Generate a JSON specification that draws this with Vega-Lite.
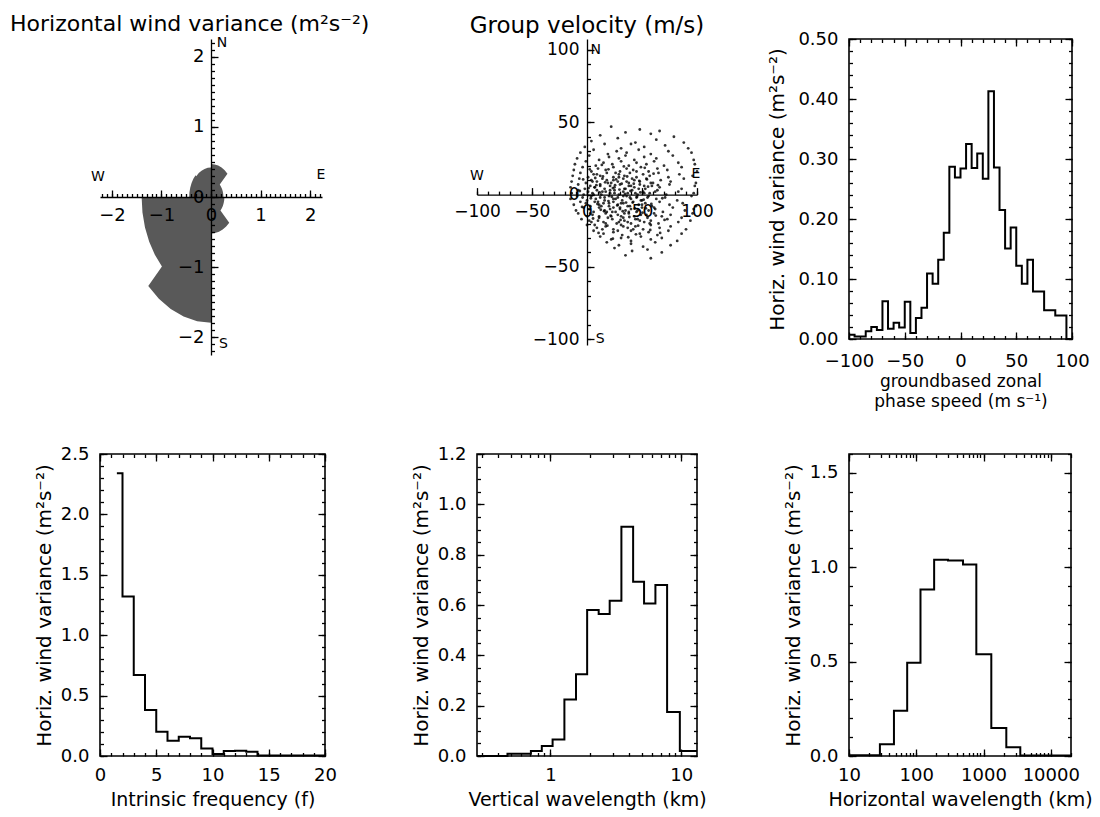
{
"$schema":"https://vega.github.io/schema/vega-lite/v6.json",
"padding":{"left":10,"top":12,"right":0,"bottom":0},
"bounds":"flush",
"columns":3,
"spacing":{"row":99,"column":152},
"config":{
 "font":"DejaVu Sans",
 "background":"white",
 "view":{"stroke":"black","strokeWidth":1.6},
 "axis":{"labelFont":"DejaVu Sans","labelFontSize":18,"labelColor":"black","titleFont":"DejaVu Sans","titleFontSize":19,"titleFontWeight":"normal","titleColor":"black","tickColor":"black","tickWidth":1.3,"domainColor":"black","domainWidth":1.3,"grid":false,"labelFlush":false,"labelOverlap":false,"domain":false,"tickSize":-7,"labelPadding":14,"titlePadding":6},
 "axisX":{"labelPadding":17},
 "axisY":{"labelPadding":18,"titleFontSize":20},
 "title":{"font":"DejaVu Sans","fontSize":22,"fontWeight":"normal","color":"black"},
 "text":{"font":"DejaVu Sans","color":"black"}
},
"concat":[
 {"width":222,"height":316,"view":{"stroke":null},
  "title":{"text":"Horizontal wind variance (m²s⁻²)","anchor":"start","frame":"group","dx":-90,"offset":-17,"baseline":"alphabetic"},
  "layer":[
   {"data":{"values":[
    {"i":0,"x":0.25,"y":0},{"i":1,"x":0.247,"y":0.039},{"i":2,"x":0.238,"y":0.077},{"i":3,"x":0.223,"y":0.114},{"i":4,"x":0.202,"y":0.147},{"i":5,"x":0.177,"y":0.177},
    {"i":6,"x":0.332,"y":0.332},{"i":7,"x":0.276,"y":0.38},{"i":8,"x":0.213,"y":0.419},{"i":9,"x":0.145,"y":0.447},{"i":10,"x":0.074,"y":0.464},{"i":11,"x":0,"y":0.47},
    {"i":12,"x":0,"y":0.42},{"i":13,"x":-0.066,"y":0.415},{"i":14,"x":-0.13,"y":0.399},{"i":15,"x":-0.191,"y":0.374},{"i":16,"x":-0.247,"y":0.34},{"i":17,"x":-0.297,"y":0.297},
    {"i":18,"x":-0.311,"y":0.311},{"i":19,"x":-0.356,"y":0.259},{"i":20,"x":-0.392,"y":0.2},{"i":21,"x":-0.418,"y":0.136},{"i":22,"x":-0.435,"y":0.069},{"i":23,"x":-0.44,"y":0},
    {"i":24,"x":-1.4,"y":0},{"i":25,"x":-1.383,"y":-0.219},{"i":26,"x":-1.332,"y":-0.433},{"i":27,"x":-1.247,"y":-0.636},{"i":28,"x":-1.133,"y":-0.823},{"i":29,"x":-0.99,"y":-0.99},
    {"i":30,"x":-1.266,"y":-1.266},{"i":31,"x":-1.052,"y":-1.448},{"i":32,"x":-0.813,"y":-1.595},{"i":33,"x":-0.553,"y":-1.702},{"i":34,"x":-0.28,"y":-1.768},{"i":35,"x":0,"y":-1.79},
    {"i":36,"x":0,"y":-0.52},{"i":37,"x":0.081,"y":-0.514},{"i":38,"x":0.161,"y":-0.495},{"i":39,"x":0.236,"y":-0.463},{"i":40,"x":0.306,"y":-0.421},{"i":41,"x":0.368,"y":-0.368},
    {"i":42,"x":0.191,"y":-0.191},{"i":43,"x":0.218,"y":-0.159},{"i":44,"x":0.241,"y":-0.123},{"i":45,"x":0.257,"y":-0.083},{"i":46,"x":0.267,"y":-0.042},{"i":47,"x":0.27,"y":0}
   ]},
    "mark":{"type":"line","filled":true,"color":"#595959"},
    "encoding":{
     "order":{"field":"i","type":"quantitative"},
     "x":{"field":"x","type":"quantitative","scale":{"domain":[-2.24,2.24],"nice":false,"zero":false},"axis":{"orient":"bottom","offset":-158,"domain":true,"values":[-2,-1,0,1,2],"title":null,"zindex":1,"labelPadding":16}},
     "y":{"field":"y","type":"quantitative","scale":{"domain":[-2.25,2.25],"nice":false,"zero":false},"axis":{"orient":"left","offset":-111,"domain":true,"values":[-2,-1,0,1,2],"title":null,"zindex":1,"labelPadding":14}}}},
   {"data":{"values":[{"t":"N","x":0.22,"y":2.2},{"t":"S","x":0.25,"y":-2.09},{"t":"W","x":-2.28,"y":0.28},{"t":"E","x":2.22,"y":0.31}]},
    "mark":{"type":"text","fontSize":14},
    "encoding":{
     "text":{"field":"t"},
     "x":{"field":"x","type":"quantitative","axis":{"orient":"bottom","offset":-158,"tickCount":45,"labels":false,"title":null,"tickSize":-3.5,"zindex":1}},
     "y":{"field":"y","type":"quantitative","axis":{"orient":"left","offset":-111,"tickCount":45,"labels":false,"title":null,"tickSize":-3.5,"zindex":1}}}}
  ],
  "resolve":{"axis":{"x":"independent","y":"independent"}}
 },
 {"width":220,"height":306,"view":{"stroke":null},
  "title":{"text":"Group velocity (m/s)","frame":"group","offset":-17,"baseline":"alphabetic","fontSize":23},
  "layer":[
   {"data":{"values":[
    {"u":22,"v":47},{"u":48,"v":45},{"u":66,"v":44},
    {"u":12,"v":41},{"u":35,"v":43},{"u":58,"v":42},{"u":79,"v":40},
    {"u":4,"v":37},{"u":28,"v":39},{"u":44,"v":36},{"u":63,"v":38},{"u":88,"v":36},
    {"u":-2,"v":33},{"u":16,"v":35},{"u":31,"v":32},{"u":40,"v":35},{"u":52,"v":33},{"u":71,"v":34},{"u":92,"v":32},
    {"u":-6,"v":29},{"u":6,"v":31},{"u":19,"v":28},{"u":27,"v":30},{"u":36,"v":29},{"u":47,"v":31},{"u":58,"v":28},{"u":74,"v":30},{"u":95,"v":29},
    {"u":-9,"v":25},{"u":2,"v":27},{"u":11,"v":24},{"u":20,"v":26},{"u":29,"v":25},{"u":35,"v":27},{"u":43,"v":24},{"u":52,"v":26},{"u":63,"v":25},{"u":78,"v":27},{"u":97,"v":24},
    {"u":-11,"v":21},{"u":-1,"v":23},{"u":8,"v":20},{"u":15,"v":22},{"u":23,"v":21},{"u":31,"v":23},{"u":38,"v":20},{"u":45,"v":22},{"u":54,"v":21},{"u":61,"v":23},{"u":70,"v":20},{"u":83,"v":22},{"u":98,"v":21},
    {"u":-12,"v":17},{"u":-4,"v":19},{"u":4,"v":16},{"u":10,"v":18},{"u":17,"v":17},{"u":24,"v":19},{"u":30,"v":16},{"u":36,"v":18},{"u":42,"v":17},{"u":49,"v":19},{"u":56,"v":16},{"u":64,"v":18},{"u":73,"v":17},{"u":86,"v":19},{"u":100,"v":16},
    {"u":-13,"v":13},{"u":-6,"v":15},{"u":1,"v":12},{"u":6,"v":14},{"u":12,"v":13},{"u":18,"v":15},{"u":24,"v":12},{"u":29,"v":14},{"u":34,"v":13},{"u":39,"v":15},{"u":45,"v":12},{"u":51,"v":14},{"u":57,"v":13},{"u":65,"v":15},{"u":74,"v":12},{"u":84,"v":14},{"u":96,"v":13},
    {"u":-14,"v":9},{"u":-7,"v":11},{"u":-1,"v":8},{"u":4,"v":10},{"u":9,"v":9},{"u":14,"v":11},{"u":19,"v":8},{"u":24,"v":10},{"u":28,"v":9},{"u":33,"v":11},{"u":38,"v":8},{"u":43,"v":10},{"u":48,"v":9},{"u":54,"v":11},{"u":60,"v":8},{"u":67,"v":10},{"u":76,"v":9},{"u":88,"v":11},{"u":99,"v":8},
    {"u":-15,"v":5},{"u":-8,"v":7},{"u":-2,"v":4},{"u":3,"v":6},{"u":7,"v":5},{"u":12,"v":7},{"u":16,"v":4},{"u":21,"v":6},{"u":25,"v":5},{"u":30,"v":7},{"u":34,"v":4},{"u":38,"v":6},{"u":43,"v":5},{"u":48,"v":7},{"u":53,"v":4},{"u":59,"v":6},{"u":66,"v":5},{"u":75,"v":7},{"u":86,"v":4},{"u":98,"v":6},
    {"u":-14,"v":1},{"u":-8,"v":3},{"u":-3,"v":0},{"u":1,"v":2},{"u":5,"v":1},{"u":9,"v":3},{"u":13,"v":0},{"u":17,"v":2},{"u":21,"v":1},{"u":25,"v":3},{"u":29,"v":0},{"u":33,"v":2},{"u":37,"v":1},{"u":41,"v":3},{"u":46,"v":0},{"u":51,"v":2},{"u":57,"v":1},{"u":64,"v":3},{"u":72,"v":0},{"u":83,"v":2},{"u":97,"v":1},
    {"u":-15,"v":-3},{"u":-9,"v":-1},{"u":-4,"v":-2},{"u":0,"v":-4},{"u":4,"v":-1},{"u":8,"v":-3},{"u":12,"v":-2},{"u":16,"v":-4},{"u":20,"v":-1},{"u":24,"v":-3},{"u":28,"v":-2},{"u":32,"v":-4},{"u":36,"v":-1},{"u":40,"v":-3},{"u":45,"v":-2},{"u":50,"v":-4},{"u":56,"v":-1},{"u":63,"v":-3},{"u":71,"v":-2},{"u":82,"v":-4},{"u":95,"v":-1},
    {"u":-12,"v":-7},{"u":-6,"v":-5},{"u":-1,"v":-6},{"u":3,"v":-8},{"u":7,"v":-5},{"u":11,"v":-7},{"u":15,"v":-6},{"u":20,"v":-8},{"u":24,"v":-5},{"u":28,"v":-7},{"u":33,"v":-6},{"u":37,"v":-8},{"u":42,"v":-5},{"u":47,"v":-7},{"u":53,"v":-6},{"u":59,"v":-8},{"u":66,"v":-5},{"u":75,"v":-7},{"u":87,"v":-6},{"u":99,"v":-8},
    {"u":-10,"v":-11},{"u":-3,"v":-9},{"u":2,"v":-10},{"u":6,"v":-12},{"u":11,"v":-9},{"u":16,"v":-11},{"u":21,"v":-10},{"u":26,"v":-12},{"u":30,"v":-9},{"u":35,"v":-11},{"u":40,"v":-10},{"u":45,"v":-12},{"u":50,"v":-9},{"u":56,"v":-11},{"u":62,"v":-10},{"u":69,"v":-12},{"u":78,"v":-9},{"u":89,"v":-11},{"u":97,"v":-10},
    {"u":-8,"v":-13},{"u":0,"v":-15},{"u":5,"v":-14},{"u":11,"v":-16},{"u":17,"v":-13},{"u":22,"v":-15},{"u":28,"v":-14},{"u":33,"v":-16},{"u":38,"v":-13},{"u":43,"v":-15},{"u":49,"v":-14},{"u":55,"v":-16},{"u":61,"v":-13},{"u":68,"v":-15},{"u":76,"v":-14},{"u":86,"v":-16},{"u":96,"v":-13},
    {"u":-5,"v":-17},{"u":4,"v":-19},{"u":10,"v":-18},{"u":17,"v":-20},{"u":23,"v":-17},{"u":29,"v":-19},{"u":34,"v":-18},{"u":40,"v":-20},{"u":46,"v":-17},{"u":52,"v":-19},{"u":58,"v":-18},{"u":65,"v":-20},{"u":73,"v":-17},{"u":83,"v":-19},{"u":94,"v":-18},
    {"u":0,"v":-21},{"u":9,"v":-23},{"u":17,"v":-22},{"u":24,"v":-24},{"u":31,"v":-21},{"u":37,"v":-23},{"u":44,"v":-22},{"u":51,"v":-24},{"u":58,"v":-21},{"u":66,"v":-23},{"u":76,"v":-22},{"u":90,"v":-24},
    {"u":6,"v":-25},{"u":15,"v":-27},{"u":24,"v":-26},{"u":32,"v":-28},{"u":40,"v":-25},{"u":48,"v":-27},{"u":56,"v":-26},{"u":64,"v":-28},{"u":74,"v":-25},{"u":86,"v":-27},
    {"u":12,"v":-29},{"u":22,"v":-31},{"u":31,"v":-30},{"u":40,"v":-32},{"u":49,"v":-29},{"u":58,"v":-31},{"u":68,"v":-30},{"u":82,"v":-32},
    {"u":18,"v":-33},{"u":29,"v":-35},{"u":40,"v":-34},{"u":51,"v":-36},{"u":62,"v":-33},{"u":76,"v":-35},
    {"u":25,"v":-37},{"u":41,"v":-39},{"u":55,"v":-38},{"u":68,"v":-40},
    {"u":35,"v":-42},{"u":58,"v":-44},
    {"u":2,"v":-18},{"u":7,"v":5},{"u":10,"v":-5},{"u":14,"v":2},{"u":18,"v":-12},{"u":22,"v":8},{"u":26,"v":-3},{"u":31,"v":-15},{"u":35,"v":4},{"u":39,"v":-8},
    {"u":44,"v":1},{"u":48,"v":-18},{"u":52,"v":6},{"u":27,"v":-20},{"u":13,"v":-8},{"u":5,"v":9},{"u":33,"v":-1},{"u":41,"v":11},{"u":19,"v":-16},{"u":46,"v":-11},
    {"u":9,"v":14},{"u":24,"v":-9},{"u":37,"v":-19},{"u":55,"v":-2},{"u":29,"v":12},{"u":16,"v":-2},{"u":50,"v":-7},{"u":3,"v":-13},{"u":42,"v":-24},{"u":58,"v":8},
    {"u":21,"v":3},{"u":34,"v":-13},{"u":12,"v":6},{"u":47,"v":4},{"u":26,"v":15},{"u":39,"v":-2},{"u":7,"v":-21},{"u":54,"v":-14},{"u":18,"v":10},{"u":31,"v":-6},
    {"u":61,"v":-9},{"u":44,"v":-17},{"u":23,"v":-12},{"u":36,"v":9},{"u":15,"v":-19},{"u":52,"v":1},{"u":28,"v":-25},{"u":40,"v":6},{"u":6,"v":0},{"u":57,"v":-20},
    {"u":20,"v":-6},{"u":45,"v":16},{"u":11,"v":-15},{"u":33,"v":-22},{"u":49,"v":-4},{"u":25,"v":1},{"u":38,"v":-12},{"u":14,"v":-24},{"u":62,"v":2},{"u":30,"v":-10},
    {"u":3.5,"v":-2.5},{"u":8.5,"v":6.5},{"u":12.5,"v":-10.5},{"u":16.5,"v":8.5},{"u":19.5,"v":-4.5},{"u":23.5,"v":4.5},{"u":27.5,"v":-7.5},{"u":31.5,"v":7.5},{"u":35.5,"v":-5.5},{"u":39.5,"v":2.5},
    {"u":43.5,"v":-9.5},{"u":47.5,"v":9.5},{"u":51.5,"v":-3.5},{"u":55.5,"v":5.5},{"u":5.5,"v":-16.5},{"u":9.5,"v":-6.5},{"u":14.5,"v":12.5},{"u":18.5,"v":-21.5},{"u":22.5,"v":-1.5},{"u":26.5,"v":10.5},
    {"u":30.5,"v":-17.5},{"u":34.5,"v":0.5},{"u":38.5,"v":-15.5},{"u":42.5,"v":7.5},{"u":46.5,"v":-21.5},{"u":50.5,"v":-12.5},{"u":54.5,"v":10.5},{"u":58.5,"v":-6.5},{"u":1.5,"v":4.5},{"u":11.5,"v":1.5},
    {"u":21.5,"v":-14.5},{"u":32.5,"v":-11.5},{"u":41.5,"v":-5.5},{"u":53.5,"v":-9.5},{"u":25.5,"v":6.5},{"u":36.5,"v":12.5},{"u":45.5,"v":-1.5},{"u":15.5,"v":-11.5},{"u":29.5,"v":3.5},{"u":48.5,"v":1.5},
    {"u":7.5,"v":11.5},{"u":62.5,"v":-14.5},{"u":64.5,"v":6.5},{"u":57.5,"v":-24.5},{"u":19.5,"v":17.5},{"u":33.5,"v":19.5},{"u":10.5,"v":-26.5},{"u":44.5,"v":-27.5},{"u":68.5,"v":-2.5},{"u":70.5,"v":-17.5},
    {"u":2.5,"v":17.5},{"u":-4.5,"v":-8.5},{"u":-6.5,"v":2.5},{"u":-3.5,"v":10.5},{"u":60.5,"v":14.5},{"u":37.5,"v":-29.5},{"u":23.5,"v":-30.5},{"u":52.5,"v":18.5},{"u":13.5,"v":20.5},{"u":66.5,"v":-26.5}
   ]},
    "mark":{"type":"circle","size":8,"color":"black","opacity":0.8},
    "encoding":{
     "x":{"field":"u","type":"quantitative","scale":{"domain":[-100,100],"nice":false,"zero":false},"axis":{"orient":"bottom","offset":-150.4,"domain":true,"values":[-100,-50,0,50,100],"title":null,"zindex":1,"labelFontSize":17,"labelPadding":16}},
     "y":{"field":"v","type":"quantitative","scale":{"domain":[-104,107.6],"nice":false,"zero":false},"axis":{"orient":"left","offset":-110,"domain":true,"values":[-100,-50,0,50,100],"title":null,"zindex":1,"labelFontSize":17,"labelPadding":15}}}},
   {"data":{"values":[{"t":"N","u":8,"v":100},{"t":"S","u":12,"v":-100},{"t":"W","u":-100,"v":13},{"t":"E","u":99,"v":14}]},
    "mark":{"type":"text","fontSize":14},
    "encoding":{
     "text":{"field":"t"},
     "x":{"field":"u","type":"quantitative","axis":{"orient":"bottom","offset":-150.4,"tickCount":20,"labels":false,"title":null,"tickSize":-3.5,"zindex":1}},
     "y":{"field":"v","type":"quantitative","axis":{"orient":"left","offset":-110,"tickCount":21,"labels":false,"title":null,"tickSize":-3.5,"zindex":1}}}}
  ],
  "resolve":{"axis":{"x":"independent","y":"independent"}}
 },
 {"width":223,"height":300,
  "data":{"values":[
   {"x":-100,"v":0.007},{"x":-95,"v":0.004},{"x":-90,"v":0.004},{"x":-85,"v":0.013},{"x":-80,"v":0.02},{"x":-75,"v":0.015},{"x":-70,"v":0.063},{"x":-65,"v":0.017},{"x":-60,"v":0.027},{"x":-55,"v":0.019},
   {"x":-50,"v":0.062},{"x":-45,"v":0.01},{"x":-40,"v":0.035},{"x":-35,"v":0.052},{"x":-30,"v":0.109},{"x":-25,"v":0.092},{"x":-20,"v":0.132},{"x":-15,"v":0.177},{"x":-10,"v":0.287},{"x":-5,"v":0.269},
   {"x":0,"v":0.284},{"x":5,"v":0.325},{"x":10,"v":0.285},{"x":15,"v":0.309},{"x":20,"v":0.267},{"x":25,"v":0.413},{"x":30,"v":0.286},{"x":35,"v":0.215},{"x":40,"v":0.151},{"x":45,"v":0.186},
   {"x":50,"v":0.122},{"x":55,"v":0.092},{"x":60,"v":0.132},{"x":65,"v":0.079},{"x":70,"v":0.079},{"x":75,"v":0.048},{"x":80,"v":0.048},{"x":85,"v":0.039},{"x":90,"v":0.039},{"x":95,"v":0},{"x":100,"v":0}
  ]},
  "layer":[
   {"mark":{"type":"line","interpolate":"step-after","color":"black","strokeWidth":2},
    "encoding":{
     "x":{"field":"x","type":"quantitative","scale":{"domain":[-100,100],"nice":false,"zero":false},"axis":{"orient":"bottom","values":[-100,-50,0,50,100],"title":["groundbased zonal","phase speed (m s⁻¹)"],"titleFontSize":17,"titleLineHeight":20,"labelPadding":20,"titlePadding":3}},
     "y":{"field":"v","type":"quantitative","scale":{"domain":[0,0.5],"nice":false,"zero":false},"axis":{"orient":"left","values":[0,0.1,0.2,0.3,0.4,0.5],"format":".2f","title":"Horiz. wind variance (m²s⁻²)","titlePadding":10}}}},
   {"mark":{"type":"line","opacity":0},
    "encoding":{
     "x":{"field":"x","type":"quantitative","axis":{"orient":"bottom","tickCount":20,"labels":false,"title":null,"tickSize":-3.5}},
     "y":{"field":"v","type":"quantitative","axis":{"orient":"left","tickCount":25,"labels":false,"title":null,"tickSize":-3.5}}}},
   {"mark":{"type":"line","opacity":0},
    "encoding":{
     "x":{"field":"x","type":"quantitative","axis":{"orient":"top","values":[-100,-50,0,50,100],"labels":false,"title":null}},
     "y":{"field":"v","type":"quantitative","axis":{"orient":"right","values":[0,0.1,0.2,0.3,0.4,0.5],"labels":false,"title":null}}}},
   {"mark":{"type":"line","opacity":0},
    "encoding":{
     "x":{"field":"x","type":"quantitative","axis":{"orient":"top","tickCount":20,"labels":false,"title":null,"tickSize":-3.5}},
     "y":{"field":"v","type":"quantitative","axis":{"orient":"right","tickCount":25,"labels":false,"title":null,"tickSize":-3.5}}}}
  ],
  "resolve":{"axis":{"x":"independent","y":"independent"}}
 },
 {"width":225,"height":302,
  "data":{"values":[
   {"x":1.5,"v":2.34},{"x":2,"v":1.32},{"x":3,"v":0.67},{"x":4,"v":0.38},{"x":5,"v":0.2},{"x":6,"v":0.127},{"x":7,"v":0.16},{"x":8,"v":0.146},{"x":9,"v":0.063},{"x":10,"v":0.017},
   {"x":11,"v":0.041},{"x":12,"v":0.044},{"x":13,"v":0.036},{"x":14,"v":0.005},{"x":20,"v":0.005}
  ]},
  "layer":[
   {"mark":{"type":"line","interpolate":"step-after","color":"black","strokeWidth":2},
    "encoding":{
     "x":{"field":"x","type":"quantitative","scale":{"domain":[0,20],"nice":false,"zero":false},"axis":{"orient":"bottom","values":[0,5,10,15,20],"format":"d","title":"Intrinsic frequency (f)"}},
     "y":{"field":"v","type":"quantitative","scale":{"domain":[0,2.5],"nice":false,"zero":false},"axis":{"orient":"left","values":[0,0.5,1,1.5,2,2.5],"format":".1f","title":"Horiz. wind variance (m²s⁻²)"}}}},
   {"mark":{"type":"line","opacity":0},
    "encoding":{
     "x":{"field":"x","type":"quantitative","axis":{"orient":"bottom","tickCount":20,"labels":false,"title":null,"tickSize":-3.5}},
     "y":{"field":"v","type":"quantitative","axis":{"orient":"left","tickCount":25,"labels":false,"title":null,"tickSize":-3.5}}}},
   {"mark":{"type":"line","opacity":0},
    "encoding":{
     "x":{"field":"x","type":"quantitative","axis":{"orient":"top","values":[0,5,10,15,20],"labels":false,"title":null}},
     "y":{"field":"v","type":"quantitative","axis":{"orient":"right","values":[0,0.5,1,1.5,2,2.5],"labels":false,"title":null}}}},
   {"mark":{"type":"line","opacity":0},
    "encoding":{
     "x":{"field":"x","type":"quantitative","axis":{"orient":"top","tickCount":20,"labels":false,"title":null,"tickSize":-3.5}},
     "y":{"field":"v","type":"quantitative","axis":{"orient":"right","tickCount":25,"labels":false,"title":null,"tickSize":-3.5}}}}
  ],
  "resolve":{"axis":{"x":"independent","y":"independent"}}
 },
 {"width":220,"height":302,
  "data":{"values":[
   {"x":0.275,"v":0},{"x":0.47,"v":0.009},{"x":0.58,"v":0.009},{"x":0.71,"v":0.02},{"x":0.86,"v":0.04},{"x":1.04,"v":0.066},{"x":1.28,"v":0.225},{"x":1.57,"v":0.325},{"x":1.91,"v":0.58},{"x":2.34,"v":0.564},
   {"x":2.84,"v":0.617},{"x":3.49,"v":0.911},{"x":4.29,"v":0.692},{"x":5.2,"v":0.606},{"x":6.35,"v":0.679},{"x":7.8,"v":0.175},{"x":9.76,"v":0.02},{"x":13.2,"v":0.02}
  ]},
  "layer":[
   {"mark":{"type":"line","interpolate":"step-after","color":"black","strokeWidth":2},
    "encoding":{
     "x":{"field":"x","type":"quantitative","scale":{"type":"log","domain":[0.275,13.2],"nice":false},"axis":{"orient":"bottom","values":[1,10],"format":"d","title":"Vertical wavelength (km)"}},
     "y":{"field":"v","type":"quantitative","scale":{"domain":[0,1.2],"nice":false,"zero":false},"axis":{"orient":"left","values":[0,0.2,0.4,0.6,0.8,1,1.2],"format":".1f","title":"Horiz. wind variance (m²s⁻²)"}}}},
   {"mark":{"type":"line","opacity":0},
    "encoding":{
     "x":{"field":"x","type":"quantitative","axis":{"orient":"bottom","tickCount":20,"labels":false,"title":null,"tickSize":-3.5}},
     "y":{"field":"v","type":"quantitative","axis":{"orient":"left","tickCount":24,"labels":false,"title":null,"tickSize":-3.5}}}},
   {"mark":{"type":"line","opacity":0},
    "encoding":{
     "x":{"field":"x","type":"quantitative","axis":{"orient":"top","values":[1,10],"labels":false,"title":null}},
     "y":{"field":"v","type":"quantitative","axis":{"orient":"right","values":[0,0.2,0.4,0.6,0.8,1,1.2],"labels":false,"title":null}}}},
   {"mark":{"type":"line","opacity":0},
    "encoding":{
     "x":{"field":"x","type":"quantitative","axis":{"orient":"top","tickCount":20,"labels":false,"title":null,"tickSize":-3.5}},
     "y":{"field":"v","type":"quantitative","axis":{"orient":"right","tickCount":24,"labels":false,"title":null,"tickSize":-3.5}}}}
  ],
  "resolve":{"axis":{"x":"independent","y":"independent"}}
 },
 {"width":222,"height":302,
  "data":{"values":[
   {"x":10,"v":0.004},{"x":28.8,"v":0.062},{"x":46.6,"v":0.24},{"x":73.3,"v":0.494},{"x":115.6,"v":0.882},{"x":184.5,"v":1.04},{"x":297,"v":1.036},{"x":496,"v":1.015},{"x":782,"v":0.539},{"x":1306,"v":0.148},
   {"x":2183,"v":0.046},{"x":3524,"v":0.003},{"x":20000,"v":0.003}
  ]},
  "layer":[
   {"mark":{"type":"line","interpolate":"step-after","color":"black","strokeWidth":2},
    "encoding":{
     "x":{"field":"x","type":"quantitative","scale":{"type":"log","domain":[10,20000],"nice":false},"axis":{"orient":"bottom","values":[10,100,1000,10000],"format":"d","title":"Horizontal wavelength (km)"}},
     "y":{"field":"v","type":"quantitative","scale":{"domain":[0,1.6],"nice":false,"zero":false},"axis":{"orient":"left","values":[0,0.5,1,1.5],"format":".1f","title":"Horiz. wind variance (m²s⁻²)"}}}},
   {"mark":{"type":"line","opacity":0},
    "encoding":{
     "x":{"field":"x","type":"quantitative","axis":{"orient":"bottom","tickCount":30,"labels":false,"title":null,"tickSize":-3.5}},
     "y":{"field":"v","type":"quantitative","axis":{"orient":"left","tickCount":16,"labels":false,"title":null,"tickSize":-3.5}}}},
   {"mark":{"type":"line","opacity":0},
    "encoding":{
     "x":{"field":"x","type":"quantitative","axis":{"orient":"top","values":[10,100,1000,10000],"labels":false,"title":null}},
     "y":{"field":"v","type":"quantitative","axis":{"orient":"right","values":[0,0.5,1,1.5],"labels":false,"title":null}}}},
   {"mark":{"type":"line","opacity":0},
    "encoding":{
     "x":{"field":"x","type":"quantitative","axis":{"orient":"top","tickCount":30,"labels":false,"title":null,"tickSize":-3.5}},
     "y":{"field":"v","type":"quantitative","axis":{"orient":"right","tickCount":16,"labels":false,"title":null,"tickSize":-3.5}}}}
  ],
  "resolve":{"axis":{"x":"independent","y":"independent"}}
 }
]
}
